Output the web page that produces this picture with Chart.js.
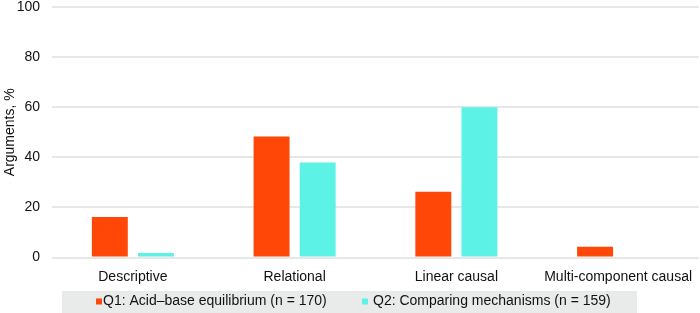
<!DOCTYPE html>
<html>
<head>
<meta charset="utf-8">
<script src="https://cdn.jsdelivr.net/npm/chart.js@4/dist/chart.umd.min.js"></script>
<style>
  html, body { margin: 0; padding: 0; background: #ffffff; }
  #wrap { width: 700px; height: 313px; position: relative; }
</style>
</head>
<body>
<div id="wrap"><canvas id="c" width="700" height="313"></canvas></div>
<script>
const categories = ['Descriptive', 'Relational', 'Linear causal', 'Multi-component causal'];
const q1Values = [16.2, 48.3, 26.2, 4.3];
const q2Values = [1.8, 37.9, 60.0, 0];
const seriesLabels = ['Q1: Acid–base equilibrium (n = 170)', 'Q2: Comparing mechanisms (n = 159)'];
const seriesColors = ['#ff4708', '#5cf2e6'];
const yTicks = [0, 20, 40, 60, 80, 100];

const FONT = "'Liberation Sans', Arial, Helvetica, sans-serif";

const legendPlugin = {
  id: 'boxLegend',
  afterDraw(chart) {
    const ctx = chart.ctx;
    ctx.save();
    ctx.fillStyle = '#e9ebeb';
    ctx.fillRect(62, 291, 575, 22);
    const items = [{mx: 96, tx: 103}, {mx: 362, tx: 373}];
    ctx.font = '14px ' + FONT;
    ctx.textBaseline = 'middle';
    ctx.textAlign = 'left';
    chart.data.datasets.forEach((ds, i) => {
      const it = items[i];
      ctx.fillStyle = ds.backgroundColor;
      ctx.fillRect(it.mx, 298.5, 6, 6);
      ctx.fillStyle = '#111111';
      ctx.fillText(ds.label, it.tx, 301);
    });
    ctx.restore();
  }
};

new Chart(document.getElementById('c'), {
  type: 'bar',
  data: {
    labels: categories,
    datasets: [
      { label: seriesLabels[0], data: q1Values, backgroundColor: seriesColors[0], borderWidth: 0,
        categoryPercentage: 0.57, barPercentage: 0.78 },
      { label: seriesLabels[1], data: q2Values, backgroundColor: seriesColors[1], borderWidth: 0,
        categoryPercentage: 0.57, barPercentage: 0.78 }
    ]
  },
  options: {
    responsive: false,
    animation: false,
    devicePixelRatio: 1,
    layout: { padding: { top: 7, right: 1, left: 0, bottom: 0 } },
    plugins: { legend: { display: false }, tooltip: { enabled: false } },
    scales: {
      x: {
        grid: { display: false, drawTicks: false },
        border: { display: false },
        ticks: { color: '#111111', font: { family: FONT, size: 14 }, padding: 11, maxRotation: 0, autoSkip: false },
        afterFit(axis) { axis.height = 55.5; axis.paddingLeft = 0; axis.paddingRight = 0; }
      },
      y: {
        min: 0, max: 100,
        afterBuildTicks(axis) { axis.ticks = yTicks.map(v => ({ value: v })); },
        grid: { color: '#e6e8e8', lineWidth: 2, drawTicks: false },
        border: { display: false },
        ticks: { color: '#111111', font: { family: FONT, size: 14, lineHeight: 1 }, padding: 12 },
        title: { display: true, text: 'Arguments, %', color: '#111111', font: { family: FONT, size: 14 }, padding: { top: 2, bottom: 0 } },
        afterFit(axis) { axis.width = 52; axis.paddingTop = 0; axis.paddingBottom = 0; }
      }
    }
  },
  plugins: [legendPlugin]
});
</script>
</body>
</html>
